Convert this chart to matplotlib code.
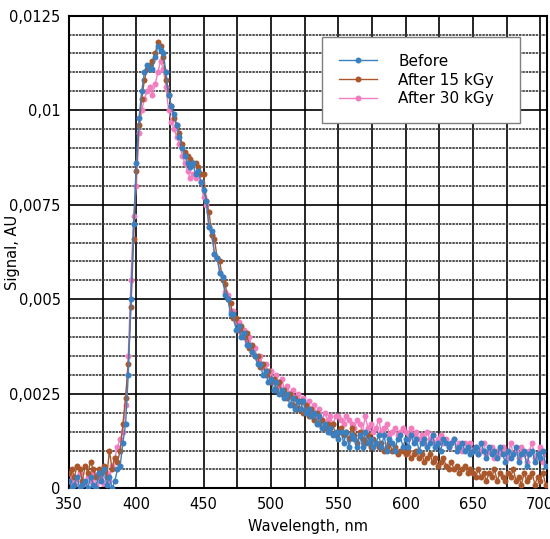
import numpy as np
import matplotlib
matplotlib.use("Agg")
import matplotlib.pyplot as plt
from matplotlib.ticker import MultipleLocator, FuncFormatter

wavelength = np.arange(350, 705, 2)

# Signal values in units of 1e-4 AU
before = [2, 0, 1, 3, 0, 1, 2, 0, 3, 1, 0, 4, 2, 5, 1, 3, 0, 2, 5, 6, 12, 17, 30, 50, 70,
          86, 98, 105, 110, 112, 111, 111, 114, 117, 116, 115, 110, 104, 101, 99, 96, 93, 90, 88, 86, 85, 86, 83, 84, 81,
          79, 76, 69, 68, 62, 61, 57, 56, 51, 50, 46, 46, 42, 43, 40, 41, 38, 38, 36, 35, 33, 33, 30, 31, 28,
          29, 26, 28, 25, 26, 24, 25, 22, 24, 21, 23, 21, 23, 20, 21, 19, 20, 17, 19, 16, 17, 15, 16, 14, 15,
          13, 15, 12, 15, 11, 14, 13, 11, 14, 11, 15, 12, 13, 11, 12, 14, 11, 14, 10, 13, 12, 10, 13, 14, 11,
          13, 11, 14, 12, 13, 10, 12, 13, 11, 12, 14, 11, 12, 10, 13, 12, 11, 12, 13, 10, 11, 12, 10, 11, 9,
          10, 11, 9, 12, 10, 8, 11, 9, 10, 8, 11, 9, 7, 10, 8, 9, 11, 7, 9, 10, 6, 9, 10, 7, 9,
          8, 10, 6]

after15 = [4, 5, 3, 6, 5, 2, 6, 4, 7, 5, 3, 5, 4, 6, 3, 10, 5, 8, 7, 10, 17, 24, 33, 48, 66,
           84, 96, 103, 108, 111, 112, 113, 115, 118, 117, 114, 108, 104, 101, 98, 96, 94, 91, 89, 88, 87, 86, 86, 85, 83,
           83, 76, 73, 67, 66, 61, 60, 55, 54, 50, 49, 45, 45, 42, 43, 40, 41, 37, 38, 35, 35, 32, 33, 30, 31,
           28, 29, 26, 28, 25, 26, 24, 25, 22, 24, 21, 23, 20, 22, 19, 21, 18, 20, 17, 18, 16, 17, 15, 17, 14,
           15, 16, 14, 15, 13, 16, 14, 12, 15, 13, 12, 14, 11, 13, 12, 11, 12, 10, 11, 12, 10, 11, 9, 10, 10,
           9, 10, 8, 9, 10, 8, 9, 7, 8, 9, 7, 8, 6, 7, 8, 6, 5, 7, 5, 6, 4, 5, 6, 4, 5,
           4, 3, 5, 3, 4, 2, 4, 3, 5, 2, 4, 3, 2, 4, 3, 5, 2, 3, 1, 4, 2, 3, 4, 1, 3,
           2, 4, 1]

after30 = [1, 3, 2, 0, 4, 2, 1, 3, 2, 4, 1, 2, 3, 1, 4, 2, 6, 8, 11, 13, 15, 22, 35, 55, 72,
           80, 94, 100, 103, 105, 106, 104, 107, 110, 113, 111, 106, 100, 97, 95, 93, 91, 88, 86, 84, 82, 83, 82, 84, 81,
           77, 75, 69, 67, 62, 61, 57, 56, 52, 51, 47, 47, 44, 44, 41, 42, 39, 40, 36, 37, 34, 35, 32, 33, 30,
           31, 28, 30, 27, 29, 26, 27, 25, 26, 24, 25, 23, 24, 21, 23, 20, 22, 19, 21, 18, 20, 18, 19, 17, 19,
           19, 18, 17, 19, 18, 17, 16, 18, 17, 15, 19, 16, 17, 15, 16, 18, 15, 16, 17, 14, 15, 16, 14, 15, 16,
           15, 13, 16, 14, 15, 13, 14, 12, 15, 13, 14, 12, 13, 14, 12, 13, 11, 12, 13, 11, 12, 10, 12, 11, 12,
           10, 11, 9, 10, 12, 9, 10, 11, 8, 10, 9, 11, 10, 8, 12, 9, 10, 8, 11, 9, 7, 10, 12, 8, 9,
           11, 7, 9]

scale = 1e-4
labels = ["Before", "After 15 kGy", "After 30 kGy"]
colors = ["#3a80c1", "#a9572b", "#f27ebf"]

fig = plt.figure(figsize=(5.5, 5.39), dpi=100)
ax = fig.add_axes([0.1255, 0.094, 0.869, 0.877])

fs = 10.5
lines = {}
for data, lab, col, z in [(after30, labels[2], colors[2], 2),
                          (after15, labels[1], colors[1], 3),
                          (before, labels[0], colors[0], 4)]:
    ln, = ax.plot(wavelength, np.array(data) * scale, color=col, lw=1.0,
                  marker='o', markersize=4.3, markeredgewidth=0, label=lab, zorder=z)
    lines[lab] = ln

ax.set_xlim(350, 705)
ax.set_ylim(0, 0.0125)
ax.xaxis.set_major_locator(MultipleLocator(50))
ax.xaxis.set_minor_locator(MultipleLocator(25))
ax.yaxis.set_major_locator(MultipleLocator(0.0025))
ax.yaxis.set_minor_locator(MultipleLocator(0.0005))

def yfmt(v, pos):
    if abs(v) < 1e-12:
        return "0"
    s = ("%.4f" % v).rstrip("0")
    return s.replace(".", ",")

ax.yaxis.set_major_formatter(FuncFormatter(yfmt))
ax.grid(which='major', color='black', lw=1.2)
ax.grid(which='minor', axis='x', color='black', lw=1.2)
ax.grid(which='minor', axis='y', color='#3a3a3a', lw=1.2, linestyle=(0, (1.5, 0.5)))
ax.set_axisbelow(True)
ax.tick_params(which='both', length=0, labelsize=fs, pad=6)
for sp in ax.spines.values():
    sp.set_color('black')
    sp.set_linewidth(1.5)

ax.set_xlabel("Wavelength, nm", fontsize=fs, labelpad=5)
ax.set_ylabel("Signal, AU", fontsize=fs)
ax.yaxis.set_label_coords(-0.1025, 0.5)

leg = ax.legend(handles=[lines[labels[0]], lines[labels[1]], lines[labels[2]]],
                loc='upper left', bbox_to_anchor=(0.529, 0.5, 0.415, 0.455), mode='expand',
                fontsize=11, fancybox=False, edgecolor='#7f7f7f', framealpha=1,
                handlelength=2.5, handletextpad=1.4, borderpad=1.1, labelspacing=0.25,
                borderaxespad=0)
leg.get_frame().set_linewidth(1.0)

fig.savefig("out.png", dpi=100)
